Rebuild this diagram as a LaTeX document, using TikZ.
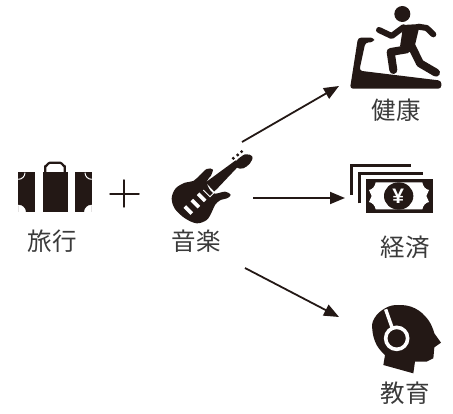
\documentclass[tikz,border=0pt]{standalone}
\usepackage{fontspec}
\newfontfamily\cjkfont{Noto Sans CJK JP}
\usetikzlibrary{arrows.meta}
\definecolor{inkblack}{HTML}{231815}
\definecolor{labelgray}{HTML}{3A3A3A}
\tikzset{
	label text/.style={font=\cjkfont\fontsize{24.5}{24.5}\selectfont, text=labelgray, inner sep=0pt},
	link/.style={draw=inkblack, line width=1.8pt, -{Triangle[length=15pt,width=12pt]}},
	icon/.style={fill=inkblack, draw=none},
	limb/.style={draw=inkblack, line cap=round, line join=round},
	gap/.style={draw=white, fill=white}
}
\begin{document}
\begin{tikzpicture}[x=1pt,y=-1pt]
	\useasboundingbox (0,0) rectangle (453,414);

	% suitcase
	\begin{scope}[shift={(0,130)},scale=1/3]
		\fill[icon] (55,127) rectangle (105,247);
		\fill[icon] (128,127) rectangle (205,247);
		\fill[icon] (225,127) rectangle (275,247);
		\draw[limb, line width=2.2pt] (136,127) -- (136,108) to[out=-90,in=180] (150,98) -- (180,98) to[out=0,in=-90] (194,108) -- (194,127);
		\fill[gap] (55,225) arc (-90:0:22) -- (55,247) -- cycle;
		\fill[gap] (275,225) arc (270:180:22) -- (275,247) -- cycle;
		\draw[white, line width=1pt] (55,148) arc (90:0:20);
		\draw[white, line width=1pt] (275,148) arc (90:180:20);
	\end{scope}

	% plus
	\draw[limb, line width=1.5pt] (110,194) -- (139,194);
	\draw[limb, line width=1.5pt] (124,180) -- (124,207);

	% guitar
	\begin{scope}[shift={(165,145)},scale=1/3]
		\fill[icon] plot[smooth cycle, tension=.55] coordinates {(20,160) (32,130) (60,113) (85,108) (105,90) (125,72) (143,73) (138,92) (125,110) (135,135) (150,146) (180,140) (197,149) (188,159) (165,166) (150,180) (140,202) (125,225) (95,235) (60,220) (30,192)};
		\fill[icon] (122,112) -- (212,46) -- (218,66) -- (148,140) -- cycle;
		\fill[icon] plot[smooth cycle, tension=.6] coordinates {(210,52) (240,28) (262,35) (255,55) (235,70) (216,68)};
		\foreach \px/\py in {70/195, 91/176, 110/157} {
			\fill[white, rotate around={-45:(\px,\py)}] (\px-15,\py-5.5) rectangle (\px+15,\py+5.5);
		}
		\draw[white, line width=0.9pt] (115,135) -- (135,155) -- (155,135);
		\foreach \px/\py in {205/40, 218/30, 230/20} {
			\fill[inkblack] (\px,\py) circle (5);
		}
	\end{scope}

	% treadmill
	\begin{scope}[shift={(330,0)},scale=1/3]
		\fill[icon, rounded corners=3pt] (60,266) -- (84,113) -- (132,113) -- (132,126) -- (106,128) -- (88,212) -- (334,242) -- (334,266) -- cycle;
	\end{scope}

	% runner
	\begin{scope}[shift={(370,0)},scale=1/3]
		\fill[icon] (97,42) circle (24);
		\fill[icon] (100,75) -- (150,72) -- (135,135) -- (90,140) -- cycle;
		\draw[limb, line width=6pt] (27,90) -- (65,108) -- (100,82);
		\draw[limb, line width=6pt] (145,80) -- (170,84) -- (190,103);
		\draw[limb, line width=8pt] (118,125) -- (150,190) -- (198,218);
		\draw[limb, line width=8pt] (110,148) -- (62,156) -- (70,210);
	\end{scope}

	% money
	\begin{scope}[shift={(345,160)},scale=1/3]
		\draw[limb, line cap=butt, line join=miter, line width=3pt] (18,105) -- (18,16) -- (198,16);
		\draw[limb, line cap=butt, line join=miter, line width=3pt] (43,130) -- (43,40) -- (233,40);
		\fill[icon] (62,57) rectangle (264,158);
		\fill[white] (92,67) .. controls (90,80) and (82,88) .. (72,90) -- (80,108) -- (72,126) .. controls (82,128) and (90,136) .. (92,148) -- (232,148) .. controls (234,136) and (242,128) .. (252,126) -- (244,108) -- (252,90) .. controls (242,88) and (234,80) .. (232,67) -- cycle;
		\fill[icon] (161,108) ellipse (44 and 41);
		\node[inner sep=0pt, text=white, font=\fontspec{Liberation Sans}\bfseries\fontsize{21}{21}\selectfont] (yen) at (160,110) {¥};
	\end{scope}

	% head
	\begin{scope}[shift={(365,300)},scale=1/3]
		\fill[icon] plot[smooth, tension=.7] coordinates {(60,165) (35,135) (22,90) (28,55) (60,25) (100,15) (150,25) (190,60) (208,100)} -- (228,128) -- (208,142) -- (205,175) -- (185,185) -- (150,185) -- (145,220) -- (55,195) -- cycle;
		\draw[white, line width=3.4pt] (62,28) -- (82,85);
		\draw[white, line width=3.6pt] (95,115) circle (33);
	\end{scope}

	% labels
	\node[label text] (travel) at (52,241) {\cjkfont 旅行};
	\node[label text] (music) at (196,241) {\cjkfont 音楽};
	\node[label text] (health) at (396,110) {\cjkfont 健康};
	\node[label text] (economy) at (405,247) {\cjkfont 経済};
	\node[label text] (education) at (405,393) {\cjkfont 教育};

	% arrows
	\coordinate (upstart) at (242,142);
	\coordinate (upend) at (339,86);
	\coordinate (midstart) at (253,198);
	\coordinate (midend) at (345,198);
	\coordinate (downstart) at (245,268);
	\coordinate (downend) at (339,317);
	\draw[link] (upstart) -- (upend);
	\draw[link] (midstart) -- (midend);
	\draw[link] (downstart) -- (downend);
\end{tikzpicture}
\end{document}
